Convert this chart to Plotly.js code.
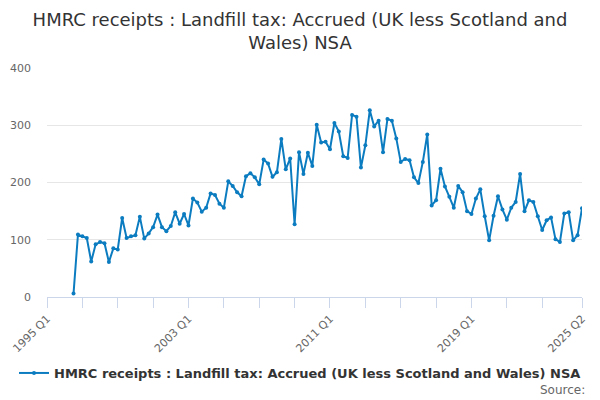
<!DOCTYPE html>
<html>
<head>
<meta charset="utf-8">
<script src="https://cdn.plot.ly/plotly-3.0.1.min.js"></script>
<style>html,body{margin:0;padding:0;background:#fff}#chart{width:600px;height:400px}</style>
</head>
<body>
<div id="chart"></div>
<script>
// Quarter categories from 1995 Q1 to 2025 Q2
var quarters = [];
for (var yr = 1995; yr <= 2025; yr++) {
  for (var q = 1; q <= 4; q++) {
    if (yr === 2025 && q > 2) break;
    quarters.push(yr + ' Q' + q);
  }
}

// Receipts (£ million), null before the tax existed
var receipts = [
  null, null, null, null, null, null,
  6,
  109, 106, 103, 62, 92, 96, 94, 61, 85, 83,
  138, 103, 106, 108, 140, 102, 111, 122, 144, 122,
  115, 124, 148, 128, 145, 125, 172, 165, 149, 156,
  181, 178, 163, 156, 202, 194, 183, 176, 211, 216,
  209, 197, 240, 233, 210, 218, 276, 223, 242, 127,
  253, 215, 252, 229, 301, 270, 271, 258, 304, 289,
  246, 243, 318, 315, 226, 265, 326, 298, 308, 253,
  311, 308, 277, 236, 241, 239, 209, 199, 236, 284,
  160, 169, 224, 193, 175, 156, 194, 183, 150, 145,
  172, 188, 141, 99, 142, 176, 153, 135, 156, 166,
  215, 150, 169, 166, 141, 117, 134, 139, 101, 96,
  146, 148, 99, 108, 155
];

var tickQuarters = ['1995 Q1','1997 Q1','1999 Q1','2001 Q1','2003 Q1','2005 Q1','2007 Q1','2009 Q1',
  '2011 Q1','2013 Q1','2015 Q1','2017 Q1','2019 Q1','2021 Q1','2023 Q1','2025 Q2'];
var labelledTicks = ['1995 Q1','2003 Q1','2011 Q1','2019 Q1','2025 Q2'];
var tickLabels = tickQuarters.map(function(t){ return labelledTicks.indexOf(t) >= 0 ? t : ''; });

var seriesName = 'HMRC receipts : Landfill tax: Accrued (UK less Scotland and Wales) NSA';
var lineColor = '#0c7cc0';

var trace = {
  type: 'scatter',
  mode: 'lines+markers',
  x: quarters,
  y: receipts,
  name: seriesName,
  line: {color: lineColor, width: 2},
  marker: {color: lineColor, size: 4},
  connectgaps: false,
  showlegend: true
};

var layout = {
  width: 600, height: 400,
  paper_bgcolor: '#fff', plot_bgcolor: '#fff',
  font: {family: 'DejaVu Sans, sans-serif', color: '#666', size: 11},
  margin: {l: 47.3, r: 18.3, t: 68, b: 103.3},
  title: {
    text: 'HMRC receipts : Landfill tax: Accrued (UK less Scotland and<br>Wales) NSA',
    font: {family: 'DejaVu Sans, sans-serif', size: 18, color: '#333'},
    x: 0.5, xanchor: 'center', xref: 'container',
    y: 0.935, yanchor: 'top', yref: 'container'
  },
  xaxis: {
    type: 'category',
    categoryorder: 'array',
    categoryarray: quarters,
    range: [0, quarters.length - 1],
    tickmode: 'array',
    tickvals: tickQuarters,
    ticktext: tickLabels,
    tickangle: -45,
    ticks: 'outside', ticklen: 10, tickcolor: '#ccd6eb', tickwidth: 1,
    showline: true, linecolor: '#ccd6eb', linewidth: 1,
    showgrid: false, zeroline: false,
    tickfont: {size: 11, color: '#666'},
    fixedrange: true
  },
  yaxis: {
    range: [0, 400],
    dtick: 100, tick0: 0,
    showgrid: true, gridcolor: '#e6e6e6', gridwidth: 1,
    zeroline: false, showline: false,
    ticks: '',
    ticklabelstandoff: 15,
    tickfont: {size: 11, color: '#666'},
    fixedrange: true
  },
  showlegend: true,
  legend: {
    orientation: 'h',
    xref: 'container', x: 0.5, xanchor: 'center',
    yref: 'container', y: 0.0675, yanchor: 'middle',
    font: {family: 'DejaVu Sans, sans-serif', size: 13, color: '#333', weight: 'bold'},
    itemwidth: 30
  },
  annotations: [{
    text: 'Source:',
    xref: 'paper', yref: 'paper',
    x: 1.0099, y: -0.408,
    xanchor: 'right', yanchor: 'middle',
    showarrow: false,
    font: {family: 'DejaVu Sans, sans-serif', size: 12, color: '#666'}
  }]
};

Plotly.newPlot('chart', [trace], layout, {displayModeBar: false, staticPlot: true});
</script>
</body>
</html>
